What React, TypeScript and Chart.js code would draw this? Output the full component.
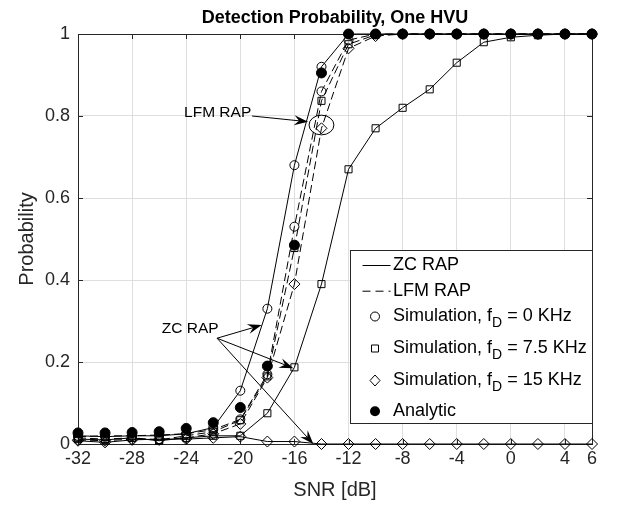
import React, { useEffect, useRef } from 'react';
import { Chart, registerables } from 'chart.js';
Chart.register(...registerables);

const snr = [-32, -30, -28, -26, -24, -22, -20, -18, -16, -14, -12, -10, -8, -6, -4, -2, 0, 2, 4, 6];
const zc0 = [0.02, 0.018, 0.02, 0.02, 0.025, 0.04, 0.13, 0.33, 0.68, 0.92, 1, 1, 1, 1, 1, 1, 1, 1, 1, 1];
const zc75 = [0.012, 0.01, 0.015, 0.008, 0.015, 0.02, 0.02, 0.075, 0.187, 0.39, 0.67, 0.77, 0.82, 0.865, 0.93, 0.98, 0.992, 0.997, 1, 1];
const zc15 = [0.008, 0.004, 0.01, 0.012, 0.012, 0.015, 0.018, 0.006, 0.006, 0, 0, 0, 0, 0, 0, 0, 0, 0, 0, 0];
const lfm0 = [0.018, 0.02, 0.02, 0.022, 0.025, 0.035, 0.06, 0.17, 0.53, 0.86, 0.985, 1, 1, 1, 1, 1, 1, 1, 1, 1];
const lfm75 = [0.015, 0.012, 0.015, 0.01, 0.02, 0.03, 0.058, 0.165, 0.478, 0.837, 0.975, 0.998, 1, 1, 1, 1, 1, 1, 1, 1];
const lfm15 = [0.01, 0.008, 0.012, 0.01, 0.015, 0.025, 0.049, 0.162, 0.39, 0.77, 0.965, 0.995, 1, 1, 1, 1, 1, 1, 1, 1];
const analytic = [0.027, 0.027, 0.028, 0.03, 0.038, 0.052, 0.089, 0.19, 0.485, 0.905, 1, 1, 1, 1, 1, 1, 1, 1, 1, 1];

const xTicks = [-32, -28, -24, -20, -16, -12, -8, -4, 0, 4, 6];
const yTicks = [0, 0.2, 0.4, 0.6, 0.8, 1];
const titleText = 'Detection Probability, One HVU';
const xLabel = 'SNR [dB]';
const yLabel = 'Probability';

// annotations in data units
const lfmNote = { text: 'LFM RAP', x: -24.16, y: 0.807, from: [-19.13, 0.8], to: [-14.99, 0.786], ell: [-14.0, 0.778, 0.92, 0.024] };
const zcNote = { text: 'ZC RAP', x: -25.8, y: 0.28, from: [-21.72, 0.258], tips: [[-18.42, 0.29], [-16.08, 0.185], [-14.6, 0.0]] };

const legendRows = [
  { kind: 'solid', pre: 'ZC RAP', sub: '', post: '' },
  { kind: 'dash', pre: 'LFM RAP', sub: '', post: '' },
  { kind: 'circle', pre: 'Simulation, f', sub: 'D', post: ' = 0 KHz' },
  { kind: 'rect', pre: 'Simulation, f', sub: 'D', post: ' = 7.5 KHz' },
  { kind: 'rectRot', pre: 'Simulation, f', sub: 'D', post: ' = 15 KHz' },
  { kind: 'filled', pre: 'Analytic', sub: '', post: '' },
];

const FONT = "'Liberation Sans', Arial, Helvetica, sans-serif";
const AXC = '#262626';

function pts(arr: number[]) {
  return snr.map((x, i) => ({ x, y: arr[i] }));
}

function drawArrow(ctx: CanvasRenderingContext2D, x1: number, y1: number, x2: number, y2: number) {
  const dx = x2 - x1, dy = y2 - y1;
  const L = Math.hypot(dx, dy);
  const ux = dx / L, uy = dy / L;
  const nx = -uy, ny = ux;
  const len = 14, hw = 5, notch = 9;
  ctx.beginPath();
  ctx.moveTo(x1, y1);
  ctx.lineTo(x2 - ux * notch, y2 - uy * notch);
  ctx.stroke();
  ctx.beginPath();
  ctx.moveTo(x2, y2);
  ctx.lineTo(x2 - ux * len + nx * hw, y2 - uy * len + ny * hw);
  ctx.lineTo(x2 - ux * notch, y2 - uy * notch);
  ctx.lineTo(x2 - ux * len - nx * hw, y2 - uy * len - ny * hw);
  ctx.closePath();
  ctx.fill();
}

function drawMarker(ctx: CanvasRenderingContext2D, kind: string, x: number, y: number) {
  ctx.beginPath();
  if (kind === 'circle') {
    ctx.arc(x, y, 4.5, 0, Math.PI * 2);
    ctx.stroke();
  } else if (kind === 'filled') {
    ctx.arc(x, y, 5, 0, Math.PI * 2);
    ctx.fill();
  } else if (kind === 'rect') {
    ctx.rect(x - 3.5, y - 3.5, 7, 7);
    ctx.stroke();
  } else if (kind === 'rectRot') {
    ctx.moveTo(x, y - 5.5);
    ctx.lineTo(x + 5, y);
    ctx.lineTo(x, y + 5.5);
    ctx.lineTo(x - 5, y);
    ctx.closePath();
    ctx.stroke();
  }
}

const decorPlugin = {
  id: 'decor',
  beforeDatasetsDraw(chart: any) {
    const { ctx, chartArea: a, scales } = chart;
    ctx.save();
    ctx.strokeStyle = AXC;
    ctx.lineWidth = 1;
    ctx.strokeRect(Math.round(a.left) + 0.5, Math.round(a.top) + 0.5, Math.round(a.right - a.left), Math.round(a.bottom - a.top));
    const tl = 5;
    ctx.beginPath();
    xTicks.forEach((v) => {
      const px = Math.round(scales.x.getPixelForValue(v)) + 0.5;
      ctx.moveTo(px, a.bottom); ctx.lineTo(px, a.bottom - tl);
      ctx.moveTo(px, a.top); ctx.lineTo(px, a.top + tl);
    });
    yTicks.forEach((v) => {
      const py = Math.round(scales.y.getPixelForValue(v)) + 0.5;
      ctx.moveTo(a.left, py); ctx.lineTo(a.left + tl, py);
      ctx.moveTo(a.right, py); ctx.lineTo(a.right - tl, py);
    });
    ctx.stroke();
    ctx.restore();
  },
  afterDraw(chart: any) {
    const { ctx, chartArea: a, scales } = chart;
    const X = (v: number) => scales.x.getPixelForValue(v);
    const Y = (v: number) => scales.y.getPixelForValue(v);
    ctx.save();
    // title
    ctx.fillStyle = '#000';
    ctx.font = `bold 18px ${FONT}`;
    ctx.textAlign = 'center';
    ctx.textBaseline = 'middle';
    ctx.fillText(titleText, (a.left + a.right) / 2, 18);
    // axis titles
    ctx.fillStyle = AXC;
    ctx.font = `20px ${FONT}`;
    ctx.textBaseline = 'middle';
    ctx.fillText(xLabel, (a.left + a.right) / 2, 490);
    ctx.save();
    ctx.translate(27, (a.top + a.bottom) / 2);
    ctx.rotate(-Math.PI / 2);
    ctx.fillText(yLabel, 0, 0);
    ctx.restore();

    // annotations
    ctx.fillStyle = '#000';
    ctx.strokeStyle = '#000';
    ctx.lineWidth = 1;
    ctx.font = `15.5px ${FONT}`;
    ctx.textAlign = 'left';
    ctx.textBaseline = 'middle';
    ctx.fillText(lfmNote.text, X(lfmNote.x), Y(lfmNote.y));
    drawArrow(ctx, X(lfmNote.from[0]), Y(lfmNote.from[1]), X(lfmNote.to[0]), Y(lfmNote.to[1]));
    const [ecx, ecy, erx, ery] = lfmNote.ell;
    ctx.beginPath();
    ctx.ellipse(X(ecx), Y(ecy), X(ecx + erx) - X(ecx), Y(ecy) - Y(ecy + ery), 0, 0, Math.PI * 2);
    ctx.stroke();
    ctx.fillText(zcNote.text, X(zcNote.x), Y(zcNote.y));
    zcNote.tips.forEach((t) => drawArrow(ctx, X(zcNote.from[0]), Y(zcNote.from[1]), X(t[0]), Y(t[1])));

    // legend
    const lw = 242, lh = 173;
    const lx = Math.round(a.right - lw) + 0.5, ly = Math.round(a.top + 216) + 0.5;
    ctx.fillStyle = '#fff';
    ctx.fillRect(lx, ly, lw, lh);
    ctx.strokeStyle = AXC;
    ctx.strokeRect(lx, ly, lw, lh);
    const rowY = [15, 40.7, 66, 98, 130, 160.7];
    ctx.strokeStyle = '#000';
    ctx.fillStyle = '#000';
    legendRows.forEach((r, i) => {
      const y = ly + rowY[i];
      const mx = lx + 24.5;
      if (r.kind === 'solid') {
        ctx.setLineDash([]);
        ctx.beginPath(); ctx.moveTo(lx + 12, y); ctx.lineTo(lx + 40, y); ctx.stroke();
      } else if (r.kind === 'dash') {
        ctx.setLineDash([8, 5]);
        ctx.beginPath(); ctx.moveTo(lx + 12, y); ctx.lineTo(lx + 40, y); ctx.stroke();
        ctx.setLineDash([]);
      } else {
        drawMarker(ctx, r.kind, mx, y);
      }
      let tx = lx + 42.5;
      ctx.font = `18px ${FONT}`;
      ctx.textBaseline = 'middle';
      ctx.fillText(r.pre, tx, y);
      tx += ctx.measureText(r.pre).width;
      if (r.sub) {
        ctx.font = `14px ${FONT}`;
        ctx.fillText(r.sub, tx, y + 7);
        tx += ctx.measureText(r.sub).width;
        ctx.font = `18px ${FONT}`;
        ctx.fillText(r.post, tx, y);
      }
    });
    ctx.restore();
  },
};

function makeSet(label: string, data: number[], style: string, dashed: boolean, line = true, radius = 4) {
  const filled = style === 'filled';
  return {
    label,
    data: pts(data),
    borderColor: '#000',
    backgroundColor: filled ? '#000' : 'rgba(0,0,0,0)',
    borderWidth: 1,
    borderDash: dashed ? [8, 4] : [],
    showLine: line,
    pointStyle: filled ? 'circle' : style,
    pointRadius: radius,
    pointBorderWidth: 1,
    pointBorderColor: '#000',
    pointBackgroundColor: filled ? '#000' : 'rgba(0,0,0,0)',
    tension: 0,
    clip: false as any,
  };
}

export default function App() {
  const ref = useRef<HTMLCanvasElement>(null);
  useEffect(() => {
    if (!ref.current) return;
    const chart = new Chart(ref.current, {
      type: 'line',
      data: {
        datasets: [
          makeSet('Analytic', analytic, 'filled', false, false, 5),
          makeSet('LFM 15', lfm15, 'rectRot', true, true, 5.5),
          makeSet('LFM 7.5', lfm75, 'rect', true, true, 5),
          makeSet('LFM 0', lfm0, 'circle', true, true, 4.5),
          makeSet('ZC 15', zc15, 'rectRot', false, true, 5.5),
          makeSet('ZC 7.5', zc75, 'rect', false, true, 5),
          makeSet('ZC 0', zc0, 'circle', false, true, 4.5),
        ] as any,
      },
      options: {
        animation: false,
        responsive: true,
        maintainAspectRatio: false,
        layout: { padding: { top: 34, right: 26, left: 0, bottom: 0 } },
        plugins: { legend: { display: false }, tooltip: { enabled: false }, title: { display: false } },
        scales: {
          x: {
            type: 'linear',
            min: -32,
            max: 6,
            afterBuildTicks: (s: any) => { s.ticks = xTicks.map((v) => ({ value: v })); },
            afterFit: (s: any) => { s.height = 62; },
            ticks: { font: { family: FONT, size: 18 }, color: AXC, padding: 4, maxRotation: 0, autoSkip: false },
            grid: { color: '#dedede', drawTicks: false, lineWidth: 1 },
            border: { display: false },
          },
          y: {
            type: 'linear',
            min: 0,
            max: 1,
            afterBuildTicks: (s: any) => { s.ticks = yTicks.map((v) => ({ value: v })); },
            afterFit: (s: any) => { s.width = 78; },
            ticks: { font: { family: FONT, size: 18 }, color: AXC, padding: 8, callback: (v: any) => String(v) },
            grid: { color: '#dedede', drawTicks: false, lineWidth: 1 },
            border: { display: false },
          },
        },
      } as any,
      plugins: [decorPlugin],
    });
    return () => chart.destroy();
  }, []);
  return (
    <div style={{ position: 'absolute', left: 0, top: 0, width: 618, height: 506, background: '#fff' }}>
      <canvas ref={ref} />
    </div>
  );
}
